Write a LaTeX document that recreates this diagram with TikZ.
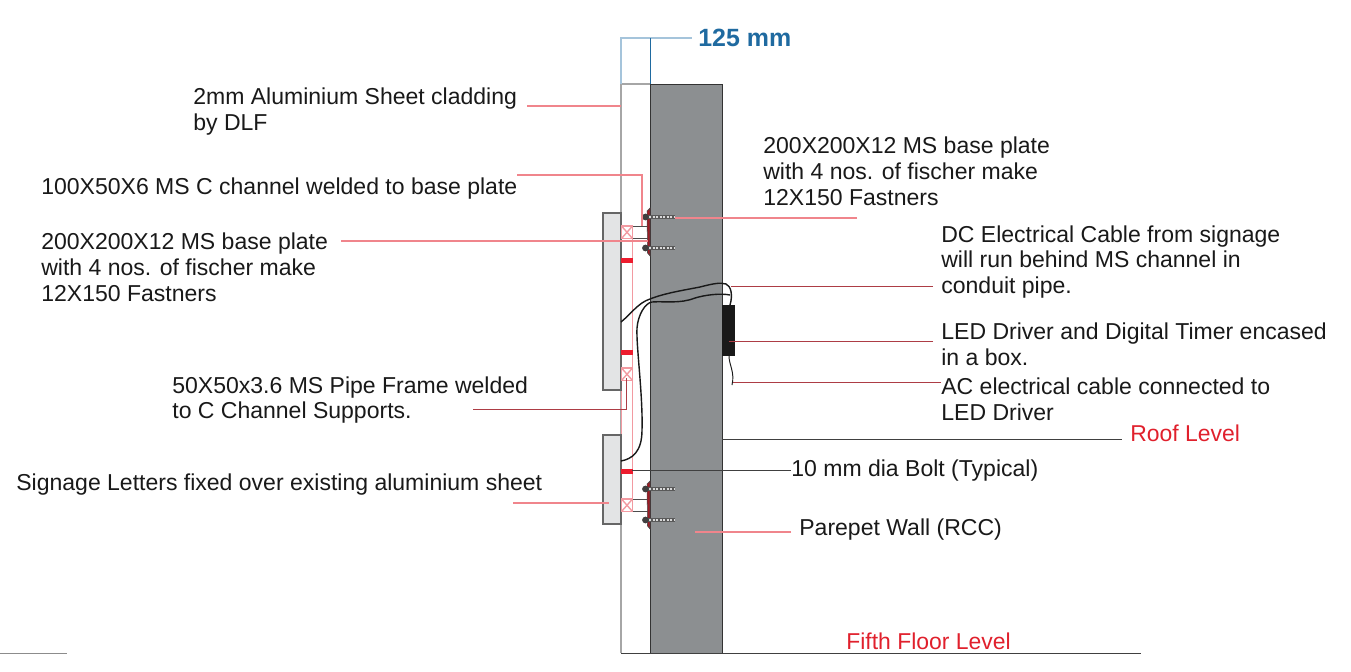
\documentclass[tikz,border=0pt]{standalone}
\usepackage{fontspec}
\setmainfont{Liberation Sans}
\usetikzlibrary{positioning}
\definecolor{wallgray}{HTML}{8C8F91}
\definecolor{panelgray}{HTML}{E3E4E5}
\definecolor{leaderred}{HTML}{F0858C}
\definecolor{framered}{HTML}{F29AA1}
\definecolor{barred}{HTML}{ED1C2E}
\definecolor{platered}{HTML}{9E1B24}
\definecolor{levelred}{HTML}{E0202C}
\definecolor{dimblue}{HTML}{1F6AA0}
\definecolor{dimlight}{HTML}{A5C4DB}
\begin{document}
\begin{tikzpicture}[
    x=0.02cm, y=-0.02cm,
    note/.style={inner sep=0pt, anchor=west, align=left, text=black!90, font=\fontsize{13.1}{14.74}\selectfont},
    level/.style={inner sep=0pt, anchor=west, text=levelred, font=\fontsize{13.05}{14.74}\selectfont},
    dim/.style={inner sep=0pt, anchor=west, text=dimblue, font=\fontsize{14.2}{16}\selectfont\bfseries},
    leader/.style={leaderred, line width=0.6pt},
    darkleader/.style={platered!85, line width=0.5pt},
    levelline/.style={black!75, line width=0.55pt},
    panel/.style={draw=black!60, fill=panelgray, line width=0.7pt},
    crossbox/.style={draw=framered, line width=0.8pt},
    channel/.style={black!70, line width=0.55pt},
    redbar/.style={fill=barred, draw=none},
    cable/.style={black!90, line width=0.8pt},
    plate/.style={fill=platered, draw=black!70, line width=0.3pt},
    shank/.style={fill=black!65, draw=none},
    thread/.style={white!85!black, line width=1pt, dash pattern=on 1.2pt off 0.8pt},
    bolthead/.style={fill=black!75, draw=none}
]
\useasboundingbox (0,0) rectangle (1351,672);

% Wall and cladding
\fill[wallgray] (650,84) rectangle (722,653);
\draw[black!80, line width=0.55pt] (650,653) -- (650,84) -- (722,84) -- (722,653);
\draw[black!35, line width=0.7pt] (650,84) -- (621,84) -- (621,653);

% Frame lines
\draw[crossbox] (632.5,226) -- (632.5,511);
\draw[crossbox] (621.5,226) -- (621.5,511);

% Signage letters
\draw[panel] (603,213) rectangle (621,390);
\draw[panel] (603,435) rectangle (621,524);

% Pipe sections
\foreach \ytop in {226,368,499} {
    \draw[crossbox] (621.5,\ytop) rectangle (632.5,\ytop+12.5);
    \draw[crossbox] (621.5,\ytop) -- (632.5,\ytop+12.5);
    \draw[crossbox] (621.5,\ytop+12.5) -- (632.5,\ytop);
}

% C channels
\draw[channel] (632.5,226) -- (648,226);
\draw[channel] (632.5,238.5) -- (648,238.5);
\draw[channel] (632.5,499) -- (648,499);
\draw[channel] (632.5,511) -- (648,511);

% Red bars
\foreach \ytop in {258,350,469}
    \fill[redbar] (621,\ytop) rectangle (633,\ytop+4.5);

% Base plates and bolts
\foreach \ytop in {208,481} {
    \path[plate] (650,\ytop) -- (650,\ytop+48) -- (647.5,\ytop+45) -- (647,\ytop+3) -- cycle;
}
\foreach \ybolt in {217,248,489,520} {
    \fill[shank] (648,\ybolt-2.2) rectangle (675,\ybolt+2.2);
    \draw[thread] (649,\ybolt) -- (674,\ybolt);
    \fill[bolthead] (645.5,\ybolt) circle[radius=3.4];
}

% Driver box and cables
\fill[black!90] (722,305) rectangle (735,356);
\draw[cable] (621,322) .. controls (632,313) and (638,303) .. (650,299) .. controls (665,293) and (685,290) .. (700,287) .. controls (712,284) and (720,282) .. (726,284) .. controls (731,286) and (733,295) .. (730,305);
\draw[cable] (621,461) .. controls (632,459) and (642,452) .. (642,430) .. controls (643,395) and (636,345) .. (637,328) .. controls (638,315) and (645,303) .. (652,302) .. controls (665,301) and (680,304) .. (695,298) .. controls (705,295) and (720,293) .. (730,295);
\draw[cable, line width=0.55pt] (729,356) .. controls (729,365) and (735,372) .. (732,385);

% Dimension
\node[dim] (dimlabel) at (698,38) {125 mm};
\coordinate (dimleft) at (621,84);
\coordinate (dimright) at (650,84);
\draw[dimlight, line width=0.7pt] (dimleft) |- ([xshift=-0.12cm]dimlabel.west);
\draw[dimblue, line width=0.5pt] (dimright) -- (650,38);

% Left labels
\node[note] (cladding) at (193,112) {2mm Aluminium Sheet cladding\\by DLF};
\node[note] (cchannel) at (41,189) {100X50X6 MS C channel welded to base plate};
\node[note] (plateleft) at (41,267) {200X200X12 MS base plate\\with 4 nos. of fischer make\\12X150 Fastners};
\node[note] (pipeframe) at (172,400) {50X50x3.6 MS Pipe Frame welded\\to C Channel Supports.};
\node[note] (letters) at (16,485) {Signage Letters fixed over existing aluminium sheet};

% Right labels
\node[note] (plateright) at (763,171) {200X200X12 MS base plate\\with 4 nos. of fischer make\\12X150 Fastners};
\node[note] (dccable) at (941,262) {DC Electrical Cable from signage\\will run behind MS channel in\\conduit pipe.};
\node[note] (driver) at (941,344) {LED Driver and Digital Timer encased\\in a box.};
\node[note] (accable) at (941,399) {AC electrical cable connected to\\LED Driver};
\node[note] (bolt) at (791,471) {10 mm dia Bolt (Typical)};
\node[note] (parapet) at (799,530) {Parepet Wall (RCC)};
\node[level] (roof) at (1130,433) {Roof Level};
\node[level] (fifth) at (846,641) {Fifth Floor Level};

% Leaders
\coordinate (claddingfrom) at (527,106);
\coordinate (claddingto) at (621,106);
\coordinate (cchannelfrom) at (517,175);
\coordinate (cchannelto) at (642,226);
\coordinate (plateleftfrom) at (341,241);
\coordinate (plateleftto) at (648,241);
\coordinate (pipefrom) at (473,409);
\coordinate (pipeto) at (626,378);
\coordinate (lettersfrom) at (513,503);
\coordinate (lettersto) at (609,503);
\coordinate (platerightfrom) at (857,218);
\coordinate (platerightto) at (675,218);
\coordinate (dcfrom) at (933,286);
\coordinate (dcto) at (731,286);
\coordinate (driverfrom) at (933,341);
\coordinate (driverto) at (729,341);
\coordinate (acfrom) at (941,382);
\coordinate (acto) at (733,382);
\coordinate (parapetfrom) at (791,532);
\coordinate (parapetto) at (695,532);
\draw[leader] (claddingfrom) -- (claddingto);
\draw[leader] (cchannelfrom) -| (cchannelto);
\draw[leader] (plateleftfrom) -- (plateleftto);
\draw[darkleader] (pipefrom) -| (pipeto);
\draw[leader] (lettersfrom) -- (lettersto);
\draw[leader] (platerightfrom) -- (platerightto);
\draw[darkleader] (dcfrom) -- (dcto);
\draw[darkleader] (driverfrom) -- (driverto);
\draw[darkleader] (acfrom) -- (acto);
\draw[leader] (parapetfrom) -- (parapetto);

% Level lines
\coordinate (roofend) at (1122,439);
\coordinate (roofwall) at (722,439);
\coordinate (boltto) at (632,470);
\coordinate (fifthstart) at (621,653);
\coordinate (fifthend) at (1141,653);
\coordinate (stubstart) at (0,653);
\coordinate (stubend) at (67,653);
\draw[levelline] (roofwall) -- (roofend);
\draw[levelline] (boltto) -- (boltto -| bolt.west);
\draw[levelline] (fifthstart) -- (fifthend);
\draw[black!45, line width=0.5pt] (stubstart) -- (stubend);

\end{tikzpicture}
\end{document}
